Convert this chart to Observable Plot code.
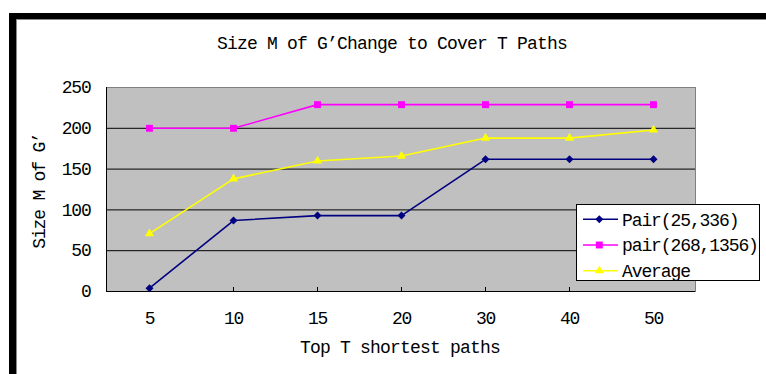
<!DOCTYPE html>
<html>
<head>
<meta charset="utf-8">
<script src="https://cdn.jsdelivr.net/npm/d3@7"></script>
<script src="https://cdn.jsdelivr.net/npm/@observablehq/plot@0.6"></script>
<style>
  html, body { margin: 0; padding: 0; background: #fff; }
  #wrap { position: relative; width: 766px; height: 374px; overflow: hidden; font-family: "Liberation Mono", monospace; color: #000; }
  #frame { position: absolute; left: 9px; top: 13px; right: -4px; bottom: -4px; border-top: 6px solid #000; border-left: 7px solid #000; box-sizing: border-box; }
  #frame::after { content: ""; position: absolute; left: 0; top: 0; right: 0; bottom: 0; border-top: 1px solid #888; border-left: 1px solid #888; }
  .txt { position: absolute; font-family: "Liberation Mono", monospace; font-size: 18px; line-height: 18px; white-space: nowrap; text-align: center; }
  #title { left: 192px; width: 400px; top: 35px; letter-spacing: -0.8px; }
  #xtitle { left: 250px; width: 300px; top: 339px; letter-spacing: -0.8px; }
  #ytitle { left: -60px; width: 200px; top: 182px; letter-spacing: -1.2px; transform: rotate(-90deg); transform-origin: 100px 9px; }
  #chart { position: absolute; left: 0; top: 0; }
  #legend { position: absolute; left: 576px; top: 204px; }
</style>
</head>
<body>
<div id="wrap">
  <div id="frame"></div>
  <div id="chart"></div>
  <div id="title" class="txt">Size M of G’Change to Cover T Paths</div>
  <div id="ytitle" class="txt">Size M of G’</div>
  <div id="xtitle" class="txt">Top T shortest paths</div>
  <div id="legend"></div>
</div>
<script>
// ---- data ----
const categories = ["5", "10", "15", "20", "30", "40", "50"];
const seriesNames = ["Pair(25,336)", "pair(268,1356)", "Average"];
const pair25 = [4, 87, 93, 93, 162, 162, 162];
const pair268 = [200, 200, 229, 229, 229, 229, 229];
const average = [71, 138, 160, 166, 188, 188, 198];
const yTicks = [0, 50, 100, 150, 200, 250];
const gridValues = [50, 100, 150, 200];

const seriesColors = ["#000080", "#ff00ff", "#ffff00"];
const seriesSymbols = ["diamond2", "square", "triangle"];
const markerR = [3.6, 3.9, 3.4];

const rows = [];
[pair25, pair268, average].forEach((vals, s) =>
  vals.forEach((v, i) => rows.push({series: seriesNames[s], t: categories[i], value: v}))
);

// boundary ticks + black axis lines, positioned through Plot's scales
function axisLines(index, scales, values, dims) {
  const x = scales.x, y = scales.y;
  const bw = x.bandwidth ? x.bandwidth() : (dims.width - dims.marginLeft - dims.marginRight) / categories.length;
  const off = Math.abs(x(categories[0]) - dims.marginLeft) < 1 ? 0 : bw / 2;
  const g = d3.create("svg:g").attr("stroke", "#000").attr("fill", "none").attr("shape-rendering", "crispEdges");
  const y0 = Math.round(y(0)) + 0.5;
  for (const c of categories.slice(1)) {
    const px = Math.round(x(c) - off) + 0.5;
    g.append("line").attr("x1", px).attr("x2", px).attr("y1", y0).attr("y2", y0 - 5);
  }
  const lx = Math.round(dims.marginLeft) + 0.5;
  g.append("line").attr("x1", lx).attr("x2", lx).attr("y1", y0).attr("y2", y(yTicks[yTicks.length - 1]));
  g.append("line").attr("x1", lx).attr("x2", dims.width - dims.marginRight).attr("y1", y0).attr("y2", y0);
  return g.node();
}

const marks = [
  Plot.frame({fill: "#c0c0c0", stroke: "#808080"}),
  Plot.ruleY(gridValues, {stroke: "#000", strokeWidth: 1}),
  axisLines,
  Plot.axisX({tickSize: 0, tickPadding: 20, label: null}),
  Plot.axisY({ticks: yTicks, tickSize: 0, tickPadding: 16, label: null})
];
seriesNames.forEach((name, s) => {
  const d = rows.filter(r => r.series === name);
  marks.push(Plot.line(d, {x: "t", y: "value", stroke: seriesColors[s], strokeWidth: 1.6}));
  marks.push(Plot.dot(d, {x: "t", y: "value", symbol: () => seriesSymbols[s], fill: seriesColors[s], stroke: "none", r: markerR[s]}));
});

const chart = Plot.plot({
  width: 766,
  height: 374,
  marginLeft: 106,
  marginRight: 71,
  marginTop: 87,
  marginBottom: 83,
  x: {type: "band", domain: categories, padding: 0},
  y: {domain: [0, 250], nice: false},
  symbol: {type: "identity"},
  style: {fontFamily: "Liberation Mono, monospace", fontSize: "18px", letterSpacing: "-1.2px", background: "none", overflow: "visible", color: "#000"},
  marks
});
document.getElementById("chart").appendChild(chart);

// ---- legend ----
const symMap = {diamond2: d3.symbolDiamond2, square: d3.symbolSquare, triangle: d3.symbolTriangle};
const lg = d3.select("#legend").append("svg").attr("width", 186).attr("height", 78);
lg.append("rect").attr("x", 0.5).attr("y", 0.5).attr("width", 183).attr("height", 76)
  .attr("fill", "#fff").attr("stroke", "#000");
const rowY = [15.3, 41, 66.7];
seriesNames.forEach((name, s) => {
  const cy = rowY[s];
  lg.append("line").attr("x1", 7).attr("x2", 42).attr("y1", cy).attr("y2", cy)
    .attr("stroke", seriesColors[s]).attr("stroke-width", 1.6);
  lg.append("path").attr("transform", `translate(23.3,${cy})`)
    .attr("d", d3.symbol(symMap[seriesSymbols[s]], Math.PI * markerR[s] * markerR[s])())
    .attr("fill", seriesColors[s]);
  lg.append("text").attr("x", 46).attr("y", cy + 6.2).text(name)
    .attr("font-family", "Liberation Mono, monospace").attr("font-size", 18)
    .attr("letter-spacing", "-1.1px").attr("fill", "#000");
});
</script>
</body>
</html>
